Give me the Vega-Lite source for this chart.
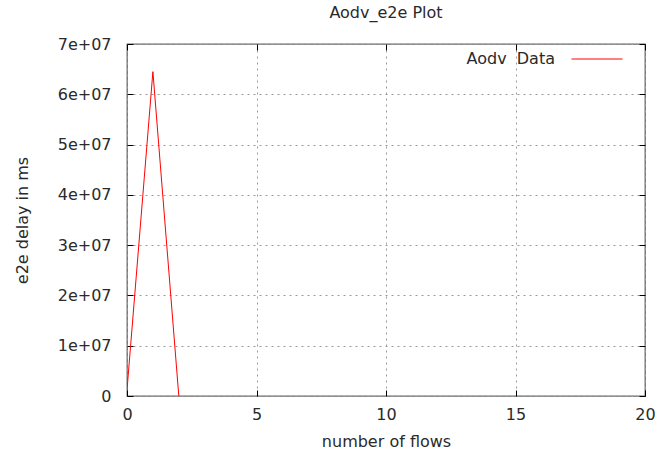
{
  "$schema": "https://vega.github.io/schema/vega-lite/v6.json",
  "autosize": "none",
  "width": 518,
  "height": 352,
  "padding": {"left": 127, "top": 44, "right": 21, "bottom": 57},
  "background": "white",
  "title": {"text": "Aodv_e2e Plot", "font": "DejaVu Sans", "fontSize": 16, "fontWeight": "normal", "color": "#2a2a2a", "offset": 12, "anchor": "middle"},
  "config": {
    "view": {"stroke": "#666", "strokeWidth": 1.3},
    "axis": {
      "labelFont": "DejaVu Sans", "labelFontSize": 16, "labelColor": "#2a2a2a",
      "titleFont": "DejaVu Sans", "titleFontSize": 16, "titleColor": "#2a2a2a", "titleFontWeight": "normal",
      "domain": false, "tickColor": "#000", "tickSize": -6, "labelFlush": false,
      "grid": true, "gridColor": "#999", "gridDash": [2, 4], "gridWidth": 1
    }
  },
  "data": {"values": [
    {"flows": 0, "delay": 1200000, "series": "Aodv\u00a0 Data"},
    {"flows": 1, "delay": 64500000, "series": "Aodv\u00a0 Data"},
    {"flows": 2, "delay": 0, "series": "Aodv\u00a0 Data"}
  ]},
  "resolve": {"axis": {"x": "independent", "y": "independent"}},
  "layer": [
    {
      "mark": {"type": "line", "strokeWidth": 1, "clip": true},
      "encoding": {
        "x": {"field": "flows", "type": "quantitative", "title": "number of flows",
          "scale": {"domain": [0, 20], "nice": false},
          "axis": {"values": [0, 5, 10, 15, 20], "labelPadding": 16, "titlePadding": 11}},
        "y": {"field": "delay", "type": "quantitative", "title": "e2e delay in ms",
          "scale": {"domain": [0, 70000000], "nice": false},
          "axis": {"values": [0, 10000000, 20000000, 30000000, 40000000, 50000000, 60000000, 70000000],
            "labelExpr": "datum.value == 0 ? '0' : (datum.value / 10000000) + 'e+07'",
            "labelPadding": 22, "titlePadding": 27}},
        "color": {"field": "series", "type": "nominal",
          "scale": {"range": ["#ff0000"]},
          "legend": {"title": null, "orient": "none", "legendX": 444, "legendY": -11,
            "symbolType": "stroke", "symbolSize": 2601, "symbolStrokeWidth": 1,
            "labelFont": "DejaVu Sans", "labelFontSize": 16, "labelColor": "#2a2a2a",
            "labelAlign": "right", "labelOffset": -68}}
      }
    },
    {
      "mark": {"type": "point", "opacity": 0},
      "encoding": {
        "x": {"field": "flows", "type": "quantitative",
          "scale": {"domain": [0, 20], "nice": false},
          "axis": {"orient": "top", "values": [0, 5, 10, 15, 20], "labels": false, "grid": false, "title": null}},
        "y": {"field": "delay", "type": "quantitative",
          "scale": {"domain": [0, 70000000], "nice": false},
          "axis": {"orient": "right", "values": [0, 10000000, 20000000, 30000000, 40000000, 50000000, 60000000, 70000000], "labels": false, "grid": false, "title": null}}
      }
    }
  ]
}
